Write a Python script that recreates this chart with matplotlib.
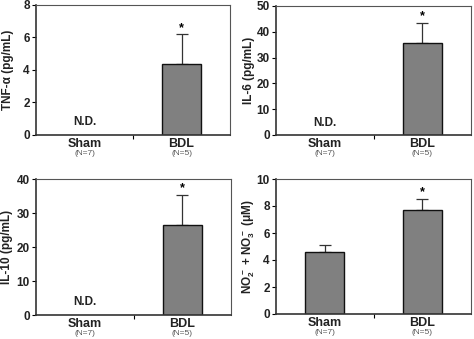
import matplotlib
matplotlib.use("Agg")
from matplotlib import pyplot as plt
import numpy as np

plt.rcParams['font.family'] = ['Liberation Sans', 'DejaVu Sans']
plt.rcParams['mathtext.fontset'] = 'custom'
plt.rcParams['mathtext.rm'] = 'Liberation Sans:bold'
plt.rcParams['mathtext.it'] = 'Liberation Sans:bold'
plt.rcParams['mathtext.bf'] = 'Liberation Sans:bold'

groups = ["Sham", "BDL"]
group_n = ["(N=7)", "(N=5)"]

# mean and SEM per group, None = not detected
tnf_mean = [None, 4.37]
tnf_sem = [None, 1.83]
il6_mean = [None, 35.7]
il6_sem = [None, 7.7]
il10_mean = [None, 26.5]
il10_sem = [None, 8.8]
nox_mean = [4.6, 7.7]
nox_sem = [0.52, 0.82]
signif = [False, True]

# label, means, sems, y max, y step, axes box (px), y label anchor (px)
panels = [
    ("TNF-\u03b1 (pg/mL)", tnf_mean, tnf_sem, 8, 2, [36, 5, 230, 135], 14),
    ("IL-6 (pg/mL)", il6_mean, il6_sem, 50, 10, [276, 6, 471, 135], 255),
    ("IL-10 (pg/mL)", il10_mean, il10_sem, 40, 10, [36, 179, 231, 315], 13),
    (r"NO$_2^{\bf -}$ + NO$_3^{\bf -}$ ($\mu$M)", nox_mean, nox_sem, 10, 2, [276, 179, 471, 314], 257),
]

W, H = 474, 339
fig = plt.figure(figsize=(W / 100, H / 100), dpi=100)

for label, mean, sem, ymax, step, box, lab_x in panels:
    x0, y0, x1, y1 = box
    ax = fig.add_axes([x0 / W, 1 - y1 / H, (x1 - x0) / W, (y1 - y0) / H])
    x = np.arange(len(groups))
    for i in x:
        if mean[i] is None:
            ax.text(i, ymax * 0.05, "N.D.", ha="center", va="bottom",
                    fontsize=8.5, fontweight="bold", color="#222222")
            continue
        ax.bar(i, mean[i], width=0.4, color="#808080", edgecolor="#111111",
               linewidth=1, zorder=2)
        ax.errorbar(i, mean[i], yerr=[[0], [sem[i]]], fmt="none",
                    ecolor="#333333", elinewidth=0.9, capsize=4,
                    capthick=0.9, zorder=1)
        if signif[i]:
            ax.text(i, mean[i] + sem[i] + ymax * 0.003, "*", ha="center",
                    va="bottom", fontsize=9, fontweight="bold")

    ax.set_xlim(-0.5, 1.5)
    ax.set_ylim(0, ymax)
    ax.set_yticks(np.arange(0, ymax + step / 2, step))
    ax.set_xticks(x)
    ax.set_xticklabels(groups, fontsize=9, fontweight="bold", color="#222222")
    ax.set_xticks([0.5], minor=True)
    ax.tick_params(axis="x", which="major", length=0, pad=2)
    ax.tick_params(axis="x", which="minor", length=3, width=0.8, direction="out")
    ax.tick_params(axis="y", length=3, width=0.8, direction="out", pad=1.5,
                   labelsize=8.5, labelcolor="#222222")
    for t in ax.get_yticklabels():
        t.set_fontweight("bold")
    ax.set_ylabel(label, fontsize=8.5, fontweight="bold", color="#222222")
    ax.yaxis.set_label_coords((lab_x - x0) / (x1 - x0), 0.5)
    for i, n in enumerate(group_n):
        ax.annotate(n, xy=(i, 0), xycoords=("data", "axes fraction"),
                    xytext=(0, -11), textcoords="offset points",
                    ha="center", va="top", fontsize=6, color="#555555")

    ax.spines["left"].set_linewidth(1.2)
    ax.spines["bottom"].set_linewidth(1.2)
    ax.spines["left"].set_color("#333333")
    ax.spines["bottom"].set_color("#333333")
    ax.spines["top"].set_linewidth(0.8)
    ax.spines["right"].set_linewidth(0.8)
    ax.spines["top"].set_color("#555555")
    ax.spines["right"].set_color("#555555")

fig.savefig("out.png", dpi=100)
